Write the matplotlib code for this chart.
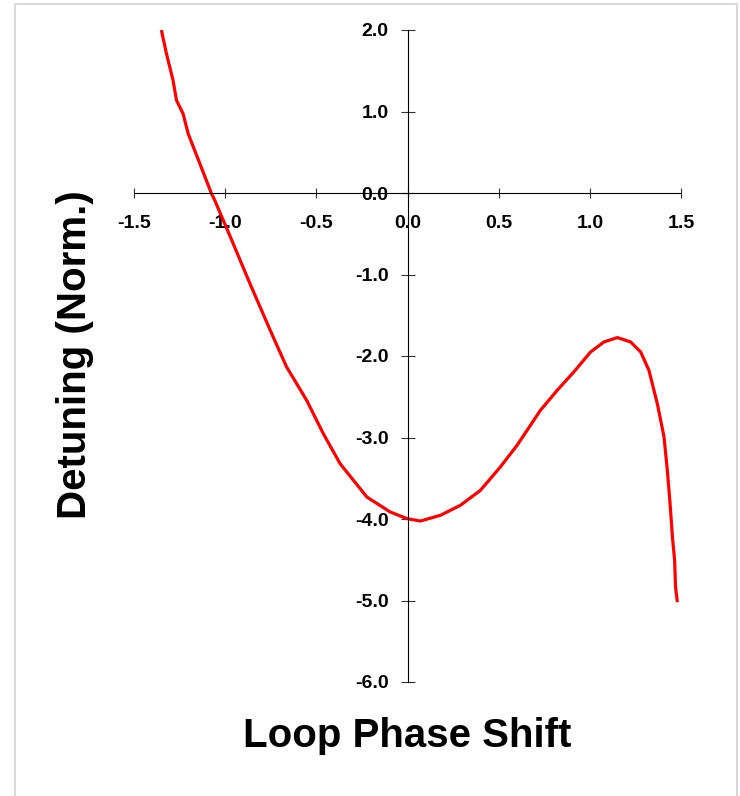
import matplotlib
matplotlib.use("Agg")
import matplotlib.pyplot as plt
from matplotlib.patches import Rectangle

plt.rcParams['font.family'] = ['Liberation Sans', 'DejaVu Sans']
plt.rcParams['font.weight'] = 'bold'

# loop phase shift vs normalised detuning
phase = [-1.35, -1.322, -1.286, -1.267, -1.231, -1.203, -1.139, -1.075, -1.057,
         -0.956, -0.864, -0.745, -0.663, -0.553, -0.462, -0.370, -0.223, -0.095,
         -0.003, 0.070, 0.180, 0.290, 0.400, 0.509, 0.601, 0.729, 0.821, 0.912,
         1.004, 1.077, 1.151, 1.224, 1.279, 1.324, 1.370, 1.407, 1.425, 1.440,
         1.453, 1.465, 1.470, 1.480]
detuning = [2.0, 1.710, 1.383, 1.138, 0.974, 0.729, 0.361, -0.007, -0.09,
            -0.621, -1.112, -1.725, -2.135, -2.544, -2.952, -3.320, -3.730, -3.914,
            -3.995, -4.025, -3.955, -3.832, -3.648, -3.362, -3.096, -2.666, -2.421, -2.196,
            -1.951, -1.828, -1.774, -1.828, -1.951, -2.175, -2.584, -2.994, -3.402, -3.811,
            -4.221, -4.507, -4.834, -5.02]

xticks = [-1.5, -1.0, -0.5, 0.0, 0.5, 1.0, 1.5]
yticks = [2.0, 1.0, 0.0, -1.0, -2.0, -3.0, -4.0, -5.0, -6.0]

fig = plt.figure(figsize=(7.4, 7.96), dpi=100)
ax = fig.add_axes([134/740, 1 - 682/796, (681-134)/740, (682-30)/796])

ax.plot(phase, detuning, color='#ff0000', lw=2.3, solid_capstyle='butt',
        solid_joinstyle='round')

ax.set_xlim(-1.5, 1.5)
ax.set_ylim(-6.0, 2.0)

ax.spines['left'].set_position(('data', 0))
ax.spines['bottom'].set_position(('data', 0))
ax.spines['top'].set_visible(False)
ax.spines['right'].set_visible(False)
for s in ['left', 'bottom']:
    ax.spines[s].set_linewidth(0.8)
    ax.spines[s].set_color('black')

ax.set_xticks(xticks)
ax.set_yticks(yticks)
ax.set_xticklabels(['%.1f' % v for v in xticks])
ax.set_yticklabels(['%.1f' % v for v in yticks])
ax.tick_params(axis='x', direction='inout', length=7.5, width=0.8, pad=12,
               labelsize=14, color='#333333')
ax.tick_params(axis='y', direction='inout', length=9.5, width=0.8, pad=9,
               labelsize=14, color='#333333')
for lab in ax.get_xticklabels() + ax.get_yticklabels():
    lab.set_fontweight('bold')

fig.text(407/740, 1 - 736/796, 'Loop Phase Shift', ha='center', va='center',
         fontsize=29, fontweight='bold')
fig.text(75/740, 1 - 355/796, 'Detuning (Norm.)', ha='center', va='center',
         rotation=90, fontsize=29, fontweight='bold')

# light grey frame round the chart
fig.patches.append(Rectangle((15/740, -0.02), (737-15)/740, (796-4)/796 + 0.02,
                             transform=fig.transFigure, fill=False,
                             edgecolor='#d9d9d9', lw=1.5))

fig.savefig('out.png', dpi=100)
